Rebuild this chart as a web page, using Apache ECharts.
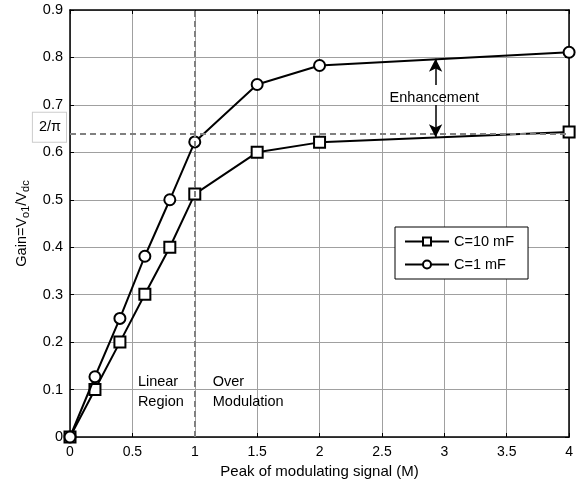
<!DOCTYPE html>
<html>
<head>
<meta charset="utf-8">
<script src="https://cdn.jsdelivr.net/npm/echarts@6/dist/echarts.min.js"></script>
<style>html,body{margin:0;padding:0;background:#fff}#c{width:576px;height:484px}</style>
</head>
<body>
<div id="c"></div>
<script>
// Data
const peakM = [0, 0.2, 0.4, 0.6, 0.8, 1, 1.5, 2, 4];
const gain10mF = [0, 0.1, 0.2, 0.301, 0.4, 0.512, 0.6, 0.621, 0.643];
const gain1mF = [0, 0.127, 0.25, 0.381, 0.5, 0.622, 0.743, 0.783, 0.811];
const seriesNames = ['C=10 mF', 'C=1 mF'];
const xTicks = {min: 0, max: 4, interval: 0.5};
const yTicks = {min: 0, max: 0.9, interval: 0.1};
const twoOverPi = 2 / Math.PI;
const boundaryM = 1;
// annotation anchors (data coords)
const arrowX = 2.93;
const arrowUp = [0.742, 0.797];
const arrowDown = [0.700, 0.632];
const enhanceLabel = [2.92, 0.714];
const linearLabel = [0.544, 0.095];
const overLabel = [1.144, 0.095];

const FONT = 'Liberation Sans, Arial, sans-serif';
const FS = 14.5;
const chart = echarts.init(document.getElementById('c'), null, {renderer: 'canvas'});

const pairs = (xs, ys) => xs.map((x, i) => [x, ys[i]]);
const axisLineStyle = {show: true, onZero: false, lineStyle: {color: '#000', width: 1.5}};
const tickStyle = {show: true, inside: true, length: 4, lineStyle: {color: '#000', width: 1}};

chart.setOption({
  backgroundColor: '#fff',
  animation: false,
  grid: {left: 70, right: 6, top: 10, bottom: 47, containLabel: false},
  xAxis: [
    {type: 'value', min: xTicks.min, max: xTicks.max, interval: xTicks.interval, position: 'bottom',
     axisLine: axisLineStyle, axisTick: tickStyle,
     axisLabel: {color: '#000', fontSize: 14, fontFamily: FONT, margin: 8},
     splitLine: {show: true, lineStyle: {color: '#a0a0a0', width: 1}},
     name: 'Peak of modulating signal (M)', nameLocation: 'middle', nameGap: 26,
     nameTextStyle: {color: '#000', fontSize: 15, fontFamily: FONT}},
    {type: 'value', min: xTicks.min, max: xTicks.max, interval: xTicks.interval, position: 'top',
     axisLine: axisLineStyle, axisTick: tickStyle, axisLabel: {show: false}, splitLine: {show: false}}
  ],
  yAxis: [
    {type: 'value', min: yTicks.min, max: yTicks.max, interval: yTicks.interval, position: 'left',
     axisLine: axisLineStyle, axisTick: tickStyle,
     axisLabel: {color: '#000', fontSize: 14.5, fontFamily: FONT, margin: 7},
     splitLine: {show: true, lineStyle: {color: '#a0a0a0', width: 1}},
     name: 'Gain=V{s|o1}/V{s|dc}', nameLocation: 'middle', nameGap: 37, nameRotate: 90,
     nameTextStyle: {color: '#000', fontSize: FS, fontFamily: FONT,
       rich: {s: {fontSize: 11, fontFamily: FONT, color: '#000', padding: [9, 0, 0, 0]}}}},
    {type: 'value', min: yTicks.min, max: yTicks.max, interval: yTicks.interval, position: 'right',
     axisLine: axisLineStyle, axisTick: tickStyle, axisLabel: {show: false}, splitLine: {show: false}}
  ],
  legend: {
    orient: 'vertical', left: 395, top: 227, data: seriesNames,
    itemWidth: 44, itemHeight: 10, itemGap: 8,
    padding: [7, 14, 7, 9], borderColor: '#000', borderWidth: 1, backgroundColor: '#fff',
    textStyle: {color: '#000', fontSize: FS, fontFamily: FONT}
  },
  series: [
    {
      name: seriesNames[0], type: 'line', data: pairs(peakM, gain10mF),
      symbol: 'rect', symbolSize: 11, showAllSymbol: true,
      lineStyle: {color: '#000', width: 2},
      itemStyle: {color: '#fff', borderColor: '#000', borderWidth: 2},
      z: 3,
      markLine: {
        silent: true, symbol: 'none', animation: false,
        lineStyle: {type: [6, 4], color: '#808080', width: 2},
        label: {show: false},
        data: [
          {xAxis: boundaryM},
          {yAxis: twoOverPi, label: {show: true, position: 'start', formatter: '2/π', distance: 4,
            offset: [0, -6],
            color: '#000', fontSize: FS, fontFamily: FONT,
            backgroundColor: '#fff', borderColor: '#ccc', borderWidth: 1, padding: [7, 5, 7, 6]}}
        ]
      },
      markPoint: {
        silent: true, symbol: 'circle', symbolSize: 0, animation: false,
        label: {show: true, position: 'right', distance: 0, color: '#000', fontSize: FS,
          fontFamily: FONT, lineHeight: 20, formatter: p => p.name},
        data: [
          {name: 'Linear\nRegion', coord: linearLabel},
          {name: 'Over\nModulation', coord: overLabel},
          {name: 'Enhancement', coord: enhanceLabel, label: {position: 'inside'}}
        ]
      }
    },
    {
      name: seriesNames[1], type: 'line', data: pairs(peakM, gain1mF),
      symbol: 'circle', symbolSize: 11, showAllSymbol: true,
      lineStyle: {color: '#000', width: 2},
      itemStyle: {color: '#fff', borderColor: '#000', borderWidth: 2},
      z: 4,
      markLine: {
        silent: true, symbol: ['none', 'arrow'], symbolSize: [10, 13], animation: false,
        lineStyle: {type: 'solid', color: '#000', width: 1.5},
        label: {show: false},
        data: [
          [{coord: [arrowX, arrowUp[0]]}, {coord: [arrowX, arrowUp[1]]}],
          [{coord: [arrowX, arrowDown[0]]}, {coord: [arrowX, arrowDown[1]]}]
        ]
      }
    }
  ]
});
</script>
</body>
</html>
